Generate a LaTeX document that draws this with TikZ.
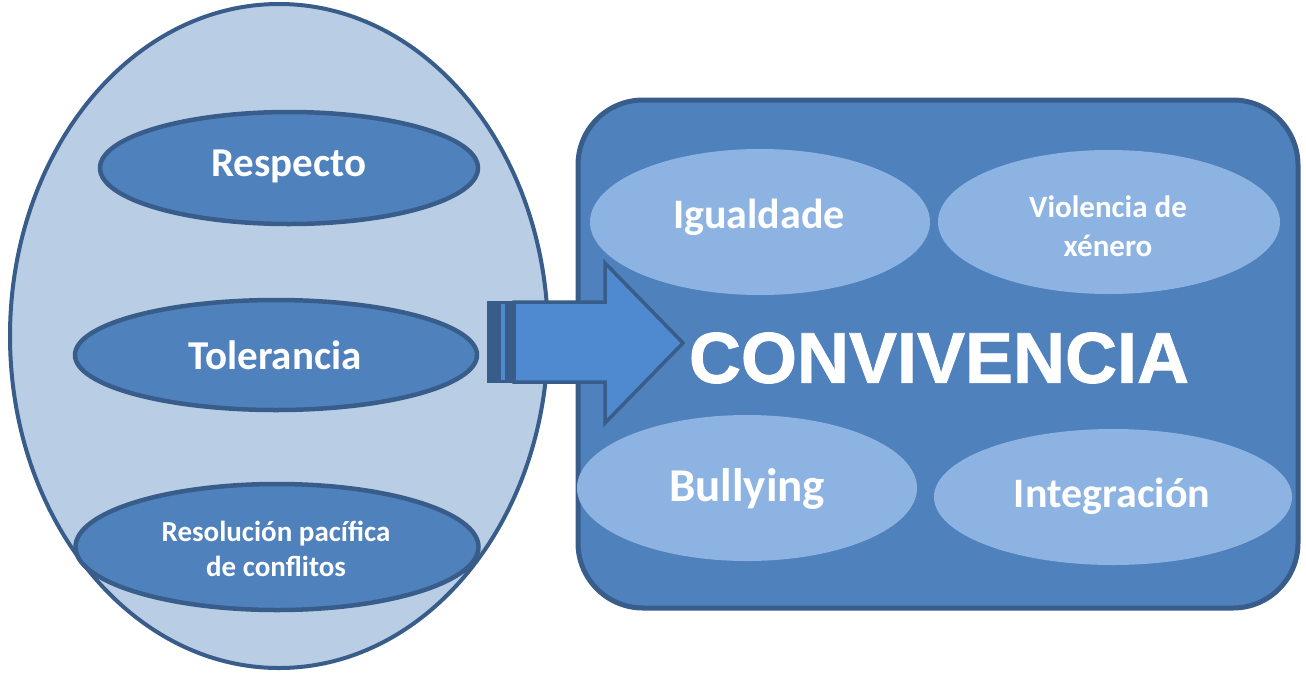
\documentclass[tikz,border=0pt]{standalone}
\usepackage{fontspec}
\setmainfont{Carlito}
\newfontfamily\bigfont[FakeBold=1.2]{Liberation Sans Bold}
\usetikzlibrary{shapes.geometric}
\definecolor{bgell}{HTML}{B9CDE5}
\definecolor{edge}{HTML}{385D8A}
\definecolor{mid}{HTML}{4F81BD}
\definecolor{light}{HTML}{8DB3E2}
\definecolor{arrowfill}{HTML}{4F89D0}
\tikzset{
  darkell/.style={ellipse, draw=edge, fill=mid, line width=4.5pt, inner sep=0pt, text=white, font=\bfseries, align=center},
  lightell/.style={ellipse, fill=light, inner sep=0pt, text=white, font=\bfseries, align=center},
}
\begin{document}
\begin{tikzpicture}[x=1pt,y=-1pt]
\useasboundingbox (0,0) rectangle (1306,673);
% left big ellipse
\node[ellipse, draw=edge, fill=bgell, line width=4pt, minimum width=538, minimum height=664, inner sep=0pt] (left) at (279,336) {};
\node[darkell, minimum width=378, minimum height=112] (resp) at (289,168) {};
\node[darkell, minimum width=402, minimum height=110] (tol) at (276,355) {};
\node[darkell, minimum width=403, minimum height=126] (res) at (277,547) {};
\node[text=white, font=\bfseries\fontsize{41}{41}\selectfont] at (289,166) {Respecto};
\node[text=white, font=\bfseries\fontsize{41}{41}\selectfont] at (275,355) {Tolerancia};
\node[text=white, font=\bfseries\fontsize{29}{35}\selectfont, align=center] at (276,549) {Resolución pacífica\\de conflitos};
% right rounded rectangle
\node[draw=edge, fill=mid, line width=5pt, rounded corners=65pt, minimum width=720, minimum height=508, inner sep=0pt] (conv) at (938,354) {};
\node[lightell, minimum width=340, minimum height=146] (igu) at (760,222) {};
\node[lightell, minimum width=342, minimum height=144] (vio) at (1109,222) {};
\node[lightell, minimum width=340, minimum height=146] (bul) at (747,488) {};
\node[lightell, minimum width=358, minimum height=136] (int) at (1113,497) {};
\node[text=white, font=\bfseries\fontsize{42}{42}\selectfont] at (759,217) {Igualdade};
\node[text=white, font=\bfseries\fontsize{31}{39}\selectfont, align=center] at (1108,226) {Violencia de\\xénero};
\node[text=white, font=\bfseries\fontsize{47}{47}\selectfont] at (747,489) {Bullying};
\node[text=white, font=\bfseries\fontsize{42}{42}\selectfont] at (1112,496) {Integración};
\node[text=white, font=\bigfont\fontsize{72}{72}\selectfont] (title) at (939,358) {CONVIVENCIA};
% striped arrow
\fill[edge] (487,301) rectangle (515,383);
\fill[arrowfill] (501,304) rectangle (505,380);
\draw[edge, fill=arrowfill, line width=3.5pt, line join=miter]
  (514,302) -- (605,302) -- (605,263) -- (683,343) -- (605,423) -- (605,382) -- (514,382) -- cycle;
\end{tikzpicture}
\end{document}
